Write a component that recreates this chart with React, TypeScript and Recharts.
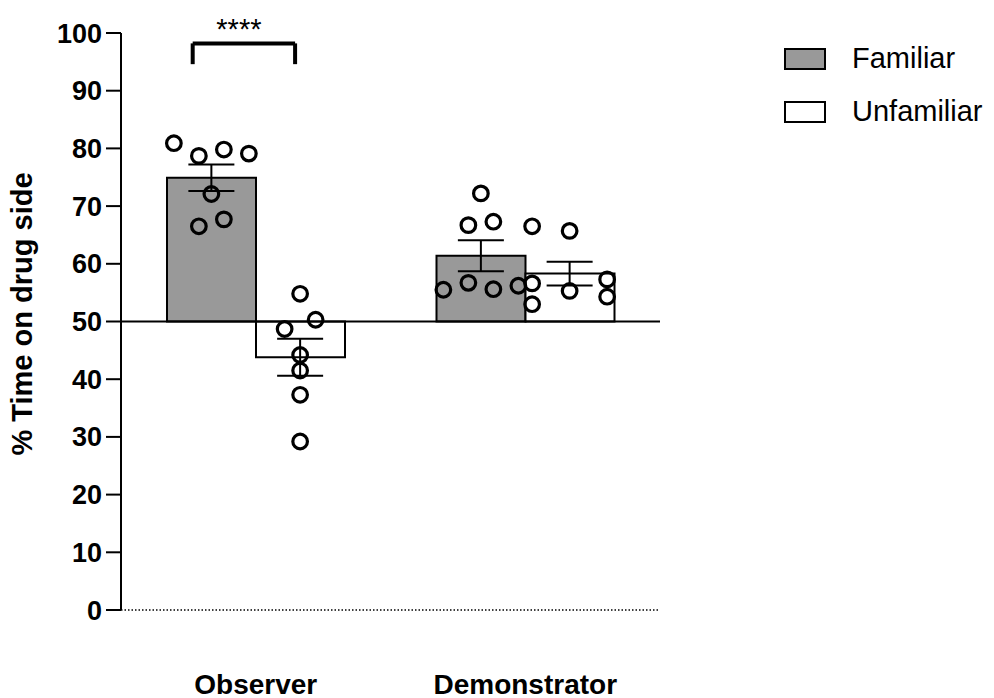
import React from 'react';
import { ComposedChart, Bar, Scatter, ErrorBar, XAxis, YAxis, ReferenceLine, Legend } from 'recharts';

const groups = ['Observer', 'Demonstrator'];
const seriesNames = ['Familiar', 'Unfamiliar'];
const seriesFills = ['#999999', '#ffffff'];
const yTicks = [0, 10, 20, 30, 40, 50, 60, 70, 80, 90, 100];

// group means and SEM
const familiarMean = [74.9, 61.4];
const familiarSem = [2.3, 2.7];
const unfamiliarMean = [43.8, 58.3];
const unfamiliarSem = [3.2, 2.05];

// individual animals; the lane arrays say which swarm column each dot sits in
const obsFamiliar = [80.9, 78.7, 79.8, 79.1, 72.1, 66.5, 67.7];
const obsFamiliarLane = [-1.5, -0.5, 0.5, 1.5, 0, -0.5, 0.5];
const obsUnfamiliar = [54.8, 50.3, 48.7, 44.2, 41.5, 37.3, 29.2];
const obsUnfamiliarLane = [0, 0.62, -0.62, 0, 0, 0, 0];
const demoFamiliar = [72.2, 66.7, 67.3, 55.5, 56.7, 55.6, 56.2];
const demoFamiliarLane = [0, -0.5, 0.5, -1.5, -0.5, 0.5, 1.5];
const demoUnfamiliar = [66.5, 65.7, 56.6, 53.0, 55.3, 57.3, 54.3];
const demoUnfamiliarLane = [-1.5, 0, -1.5, -1.5, 0, 1.5, 1.5];

// Observer familiar vs unfamiliar comparison
const sigBracket = { from: 0.266, to: 0.646, top: 98.2, foot: 94.6, text: '****' };

const BASELINE = 50;
const FONT = '"Liberation Sans", Arial, Helvetica, sans-serif';

const W = 994;
const H = 698;
const PLOT_LEFT = 121;
const PLOT_RIGHT = 660;
const PLOT_TOP = 33;
const X_AXIS_H = 88;
const CAT_GAP = 46;
const BAND = (PLOT_RIGHT - PLOT_LEFT) / groups.length;
const BAR_W = (BAND - 2 * CAT_GAP) / 2;
const BAR_SHIFT = BAR_W / 2 / BAND; // bar centre offset, in group units
const LANE = 25 / BAND; // swarm column spacing, in group units

const span = (v: number) => [Math.min(BASELINE, v), Math.max(BASELINE, v)];

const barData = groups.map((g, i) => ({
  group: g,
  familiar: span(familiarMean[i]),
  unfamiliar: span(unfamiliarMean[i]),
}));

const errData = groups.flatMap((_, i) => [
  { x: i + 0.5 - BAR_SHIFT, y: familiarMean[i], err: familiarSem[i] },
  { x: i + 0.5 + BAR_SHIFT, y: unfamiliarMean[i], err: unfamiliarSem[i] },
]);

const dotSets = [
  { g: 0, side: -1, values: obsFamiliar, lanes: obsFamiliarLane },
  { g: 0, side: 1, values: obsUnfamiliar, lanes: obsUnfamiliarLane },
  { g: 1, side: -1, values: demoFamiliar, lanes: demoFamiliarLane },
  { g: 1, side: 1, values: demoUnfamiliar, lanes: demoUnfamiliarLane },
];

const dots = dotSets.flatMap((s) =>
  s.values.map((v, k) => ({ x: s.g + 0.5 + s.side * BAR_SHIFT + s.lanes[k] * LANE, y: v }))
);

const OpenCircle = (props: any) => (
  <circle cx={props.cx} cy={props.cy} r={7.3} fill="none" stroke="#000" strokeWidth={3.2} />
);

const YTitle = () => (
  <text
    x={32}
    y={314}
    transform="rotate(-90 32 314)"
    textAnchor="middle"
    fontSize={29}
    fontWeight={700}
    fontFamily={FONT}
    fill="#000"
  >
    % Time on drug side
  </text>
);

const LegendBoxes = () => (
  <div style={{ fontFamily: FONT }}>
    {seriesNames.map((name, i) => (
      <div key={name} style={{ display: 'flex', alignItems: 'center', height: 53 }}>
        <span
          style={{
            width: 42,
            height: 22,
            boxSizing: 'border-box',
            border: '2px solid #000',
            background: seriesFills[i],
            marginRight: 26,
          }}
        />
        <span style={{ fontSize: 29, color: '#000' }}>{name}</span>
      </div>
    ))}
  </div>
);

export default function App() {
  return (
    <div style={{ position: 'absolute', left: 0, top: 0, width: W, height: H, background: '#fff' }}>
      <ComposedChart
        width={W}
        height={H}
        data={barData}
        margin={{ top: PLOT_TOP, right: W - PLOT_RIGHT, bottom: 0, left: 0 }}
        barCategoryGap={CAT_GAP}
        barGap={0}
      >
        <XAxis
          xAxisId="cat"
          dataKey="group"
          type="category"
          height={X_AXIS_H}
          axisLine={false}
          tickLine={false}
          tickSize={0}
          tickMargin={64}
          interval={0}
          tick={{ fontSize: 28, fontWeight: 700, fill: '#000', fontFamily: FONT }}
        />
        <XAxis xAxisId="num" type="number" dataKey="x" domain={[0, groups.length]} hide allowDataOverflow />
        <YAxis
          domain={[0, 100]}
          ticks={yTicks}
          interval={0}
          width={PLOT_LEFT}
          axisLine={{ stroke: '#000', strokeWidth: 2 }}
          tickLine={{ stroke: '#000', strokeWidth: 2 }}
          tickSize={15}
          tickMargin={4}
          tick={{ fontSize: 27, fontWeight: 700, fill: '#000', fontFamily: FONT }}
          label={<YTitle />}
        />
        <ReferenceLine xAxisId="num" y={0} stroke="#000" strokeWidth={1.3} strokeDasharray="1.5 2" />
        <Bar
          xAxisId="cat"
          dataKey="familiar"
          name={seriesNames[0]}
          fill={seriesFills[0]}
          stroke="#000"
          strokeWidth={2}
          isAnimationActive={false}
        />
        <Bar
          xAxisId="cat"
          dataKey="unfamiliar"
          name={seriesNames[1]}
          fill={seriesFills[1]}
          stroke="#000"
          strokeWidth={2}
          isAnimationActive={false}
        />
        <ReferenceLine xAxisId="num" y={BASELINE} stroke="#000" strokeWidth={2} />
        <Scatter xAxisId="num" data={errData} dataKey="y" shape={() => <g />} legendType="none" isAnimationActive={false}>
          <ErrorBar dataKey="err" direction="y" width={23} stroke="#000" strokeWidth={2} />
        </Scatter>
        <Scatter xAxisId="num" data={dots} dataKey="y" shape={OpenCircle} legendType="none" isAnimationActive={false} />
        <ReferenceLine
          xAxisId="num"
          segment={[{ x: sigBracket.from, y: sigBracket.top }, { x: sigBracket.to, y: sigBracket.top }]}
          stroke="#000"
          strokeWidth={4}
          label={{ value: sigBracket.text, position: 'top', offset: 4, dx: -5, fontSize: 29, fill: '#000', fontFamily: FONT }}
        />
        <ReferenceLine
          xAxisId="num"
          segment={[{ x: sigBracket.from, y: sigBracket.top }, { x: sigBracket.from, y: sigBracket.foot }]}
          stroke="#000"
          strokeWidth={4}
        />
        <ReferenceLine
          xAxisId="num"
          segment={[{ x: sigBracket.to, y: sigBracket.top }, { x: sigBracket.to, y: sigBracket.foot }]}
          stroke="#000"
          strokeWidth={4}
        />
        <Legend
          layout="vertical"
          align="center"
          verticalAlign="middle"
          wrapperStyle={{ left: 784, top: 32, width: 210 }}
          content={<LegendBoxes />}
        />
      </ComposedChart>
    </div>
  );
}
